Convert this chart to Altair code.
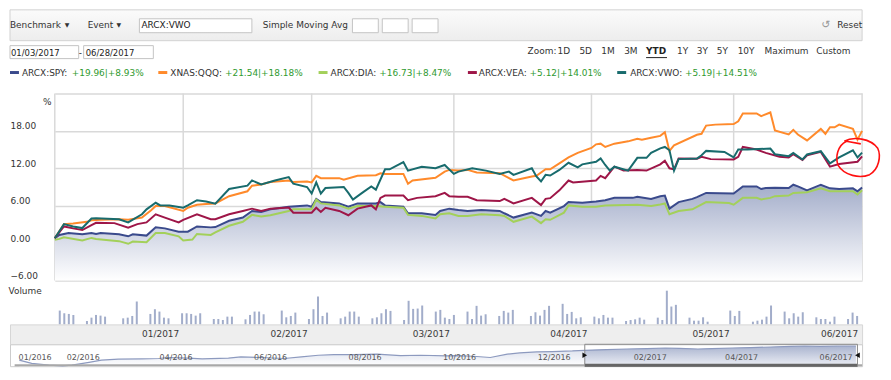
import altair as alt
import pandas as pd

FONT = "DejaVu Sans"
W = 856

# ---------------- data ----------------
names = ["ARCX:SPY", "XNAS:QQQ", "ARCX:DIA", "ARCX:VEA", "ARCX:VWO"]
colors = ["#3a4a8c", "#ff8a2b", "#a3d05a", "#9e1648", "#186b6d"]
chg_abs = [19.96, 21.54, 16.73, 5.12, 5.19]
chg_pct = [8.93, 18.18, 8.47, 14.01, 14.51]

start_date = "2017-01-03"
end_date = "2017-06-28"

# day offsets from 2017-01-03 and % change values
spy_days = [0,1,3,6,8,9,10,14,16,17,20,22,24,27,29,31,34,35,38,41,43,45,47,51,55,56,57,58,62,64,66,70,71,72,76,77,80,83,84,86,88,90,93,97,98,100,104,106,107,108,111,112,115,118,120,122,126,127,130,132,133,134,136,139,140,142,148,150,153,154,155,157,160,161,162,164,167,169,171,174,175,176]
spy_vals = [0.79,1.32,1.63,1.42,1.63,1.47,1.63,1.42,1.10,1.42,1.21,2.53,2.37,1.84,1.84,2.68,2.53,2.58,3.58,4.10,5.16,5.00,5.42,5.84,6.05,5.84,7.10,6.58,6.37,5.84,6.37,6.37,6.58,6.05,5.84,4.79,4.79,4.53,5.16,5.53,5.32,5.16,5.32,5.16,4.79,4.10,4.89,4.37,5.16,4.89,5.95,6.58,6.47,6.68,6.89,7.26,7.26,7.42,7.10,7.53,7.63,5.53,6.58,7.10,7.37,8.05,7.95,9.10,9.10,8.68,8.84,8.89,8.84,9.37,9.10,8.47,9.37,8.79,8.68,8.79,8.32,8.93]

qqq_days = [0,2,4,7,8,10,14,16,19,21,22,24,28,29,31,33,35,38,42,43,45,47,51,52,55,56,57,58,62,63,66,70,71,72,76,77,78,83,85,86,88,90,92,97,100,104,105,107,108,110,112,114,117,118,119,120,122,125,127,128,130,132,133,134,135,140,141,142,144,148,149,150,153,154,156,157,160,161,162,164,167,168,169,170,171,174,175,176]
qqq_vals = [0.79,3.05,3.16,3.42,3.68,3.74,3.84,3.74,4.10,5.26,5.95,5.95,5.16,5.68,6.16,6.26,6.37,7.53,8.32,9.21,9.40,9.79,10.05,9.79,9.89,9.74,10.79,10.42,10.42,10.16,10.79,10.89,11.21,11.10,11.10,9.53,10.05,10.47,11.47,11.74,11.63,11.74,11.32,11.21,10.05,10.68,10.79,11.84,11.84,12.79,13.74,14.47,15.26,15.84,15.95,15.42,15.95,16.32,16.74,16.58,16.89,17.20,17.79,14.79,15.68,17.37,17.53,18.84,19.00,19.10,19.53,20.79,20.79,20.37,20.95,18.05,17.42,18.16,17.42,16.47,18.32,17.53,18.58,18.58,19.00,18.32,16.58,18.00]

dia_days = [0,1,2,6,8,9,14,16,17,20,22,24,27,28,30,31,34,35,38,41,43,45,47,51,52,56,57,58,62,64,66,70,72,76,77,80,83,84,86,88,90,93,97,98,100,104,106,107,108,111,112,115,118,120,127,130,132,133,134,136,139,142,147,148,150,153,154,156,157,160,161,164,167,169,174,175,176]
dia_vals = [0.53,0.68,0.95,0.42,0.84,0.68,0.32,-0.10,0.26,0.16,1.63,1.63,1.10,0.42,0.58,1.47,1.32,1.74,2.79,3.42,4.53,4.26,4.47,5.16,5.42,5.42,7.00,6.37,6.05,5.53,5.95,5.95,5.84,5.68,4.53,4.37,3.95,4.63,4.79,4.37,4.37,4.63,4.47,4.37,3.42,4.26,3.21,3.84,3.74,4.89,6.05,5.84,5.84,6.05,6.16,5.95,6.21,6.37,4.63,5.16,5.42,6.58,6.42,6.16,7.26,7.26,7.00,7.26,7.53,7.63,8.05,8.16,8.79,8.32,8.32,7.79,8.47]

vea_days = [0,2,4,6,8,9,13,16,18,20,22,24,27,28,31,34,35,38,41,43,45,47,51,52,56,57,58,59,62,64,66,69,70,71,72,76,77,79,83,85,86,88,90,92,97,98,100,104,106,107,108,110,112,113,118,119,120,122,124,127,129,132,133,134,135,136,140,141,143,148,149,150,153,155,158,160,161,163,164,167,169,171,175,176]
vea_vals = [0.79,2.68,2.37,2.10,2.89,3.26,3.21,2.47,3.05,3.32,4.63,4.10,3.32,3.74,4.63,3.84,3.84,4.63,5.16,5.53,5.16,5.53,5.72,4.89,4.89,5.68,5.00,5.68,5.16,4.47,5.53,6.05,5.42,7.26,7.63,7.63,6.89,7.26,7.53,8.05,7.53,7.42,7.42,6.89,6.74,7.10,6.37,7.26,6.10,7.10,7.21,8.47,10.05,9.74,10.05,10.79,10.42,12.26,11.63,11.74,11.63,12.63,13.21,12.00,11.84,13.58,13.53,13.84,13.47,13.42,13.84,15.42,15.00,14.47,13.84,13.74,14.26,13.32,14.10,14.63,12.26,12.68,13.05,13.90]

vwo_days = [0,2,4,6,8,9,14,16,19,20,22,23,25,28,29,31,33,35,38,42,43,45,48,51,52,55,56,57,58,59,63,64,65,67,69,70,72,73,76,77,80,83,85,87,88,91,94,97,99,100,104,105,106,107,108,110,112,114,115,118,119,120,121,122,125,127,129,130,132,133,134,135,136,140,141,142,146,148,149,151,156,157,160,161,163,164,167,169,171,174,175,176]
vwo_vals = [0.79,3.05,2.68,2.42,3.95,4.00,3.84,3.32,4.63,5.42,6.47,6.05,6.05,5.68,6.05,6.89,6.68,6.32,8.68,9.21,10.05,9.40,10.05,10.58,9.53,9.00,7.95,9.74,7.95,8.84,9.00,8.05,7.00,8.05,9.10,8.58,11.84,11.84,13.00,11.63,12.26,12.00,12.53,11.10,11.47,12.00,11.63,11.10,11.47,10.95,12.00,10.68,9.89,10.95,10.84,11.74,12.89,12.16,12.63,13.05,13.58,12.53,11.63,12.26,11.63,13.68,13.68,14.47,15.20,15.42,14.89,11.63,13.47,13.58,14.10,14.79,14.63,13.74,15.00,15.00,15.16,14.26,13.95,14.47,13.42,14.21,14.74,12.79,13.74,14.89,13.74,14.51]

# daily volume (millions), one per trading day
holidays = ["2017-01-16", "2017-02-20", "2017-04-14", "2017-05-29"]
volume = [41,33,31,28, 10,20,28,26,23, 18,20,25,68, 31,45,38,20,18, 33,33,31,26,33,
          16,16,13,23,23, 15,28,38,38,30, 41,21,25,35, 16,45,83,25,35, 18,23,38,38,23,
          18,21,33,45,40, 13,70,46,47,56, 38,43,20,16,28, 38,16,55,26,30, 25,40,35,43,
          25,36,26,43,55, 61,31,37,18,21, 23,18,28,20,20, 10,13,15,20,14, 20,13,100,53,58,
          20,11,11,21,8, 0,41,25,40, 8,11,14,23,56, 38,18,33,23,36, 21,16,16,8,23, 16,35,25]

# navigator series (price)
nav_dates = ["2016-01-04","2016-01-12","2016-01-23","2016-02-01","2016-02-07","2016-02-18","2016-02-26","2016-03-08","2016-03-23","2016-04-03","2016-04-09","2016-04-22","2016-05-01","2016-05-18","2016-05-26","2016-06-08","2016-06-23","2016-07-04","2016-07-15","2016-07-25","2016-08-07","2016-08-22","2016-09-06","2016-09-19","2016-10-06","2016-10-12","2016-10-23","2016-11-03","2016-11-14","2016-11-22","2016-12-03","2016-12-13","2016-12-26","2017-01-03","2017-01-17","2017-01-30","2017-02-12","2017-02-24","2017-03-05","2017-03-17","2017-03-26","2017-04-08","2017-04-20","2017-05-03","2017-05-16","2017-05-25","2017-06-04","2017-06-15","2017-06-27"]
nav_vals = [201.5,192,187,185,187,195,201.5,204.4,205.3,206.5,209.4,207.3,205.3,207.3,211,209.4,206.5,211,216,218,218,219,215,216,214,215,213,209.4,219,222.7,225.6,226.8,228.5,230.5,232.6,234.3,235.5,237.2,236.3,234.3,235.5,237.2,238.4,240.1,242.1,243,242.1,243,243]
nav_label_dates = ["2016-01-01","2016-02-01","2016-04-01","2016-06-01","2016-08-01","2016-10-01","2016-12-01","2017-02-01","2017-04-01","2017-06-01"]

month_end_dates = ["2017-01-31", "2017-02-28", "2017-03-31", "2017-04-30", "2017-05-31", end_date]

zoom_items = ["Zoom:", "1D", "5D", "1M", "3M", "YTD", "1Y", "3Y", "5Y", "10Y", "Maximum", "Custom"]

annot_date = "2017-06-27"
annot_value = 13.8

# ---------------- helpers ----------------
start_ts = pd.Timestamp(start_date)


def to_dates(days):
    return [(start_ts + pd.Timedelta(days=int(d))).strftime("%Y-%m-%d") for d in days]


def utc(s):
    t = pd.Timestamp(s)
    return alt.DateTime(year=t.year, month=t.month, date=t.day, utc=True)


series_days = [spy_days, qqq_days, dia_days, vea_days, vwo_days]
series_vals = [spy_vals, qqq_vals, dia_vals, vea_vals, vwo_vals]
frames = [pd.DataFrame({"date": to_dates(d), "value": v}) for d, v in zip(series_days, series_vals)]

main_xscale = alt.Scale(domain=[utc(start_date), utc(end_date)], range=[45, W])


def X():
    return alt.X("date:T", scale=main_xscale, axis=None)


y_axis = alt.Axis(values=[-6, 0, 6, 12, 18, 24],
                  labelExpr="datum.value == 24 ? '' : format(datum.value, '.2f')",
                  labelAlign="left", labelBaseline="bottom", labelPadding=0,
                  ticks=False, domain=False, grid=True, gridColor="#d9d9d9", gridWidth=1.5,
                  labelFont=FONT, labelFontSize=9, labelColor="#333333",
                  title="%", titleAngle=0, titleX=37, titleY=8, titleAlign="center",
                  titleBaseline="middle", titleFont=FONT, titleFontSize=9,
                  titleFontWeight="normal", titleColor="#333333")
y_scale = alt.Scale(domain=[-6, 24], nice=False, zero=False)


def Y():
    return alt.Y("value:Q", scale=y_scale, axis=y_axis)


# ---------------- header ----------------
box_df = pd.DataFrame({"x": [0], "x2": [W], "y": [0], "y2": [31]})
header_box = alt.Chart(box_df).mark_rect(
    fill=alt.Gradient(gradient="linear", x1=0, x2=0, y1=0, y2=1,
                      stops=[alt.GradientStop(color="#fbfbfb", offset=0),
                             alt.GradientStop(color="#ededed", offset=1)]),
    stroke="#d2d2d2", strokeWidth=1
).encode(x=alt.X("x:Q", scale=None), x2="x2:Q", y=alt.Y("y:Q", scale=None), y2="y2:Q")

inputs_df = pd.DataFrame({
    "x": [130, 344, 374, 404, 0, 74],
    "x2": [243, 370, 400, 430, 69, 144],
    "y": [9, 9, 9, 9, 36, 36],
    "y2": [23, 23, 23, 23, 49, 49],
})
header_inputs = alt.Chart(inputs_df).mark_rect(fill="#ffffff", stroke="#c4c4c4", strokeWidth=1).encode(
    x=alt.X("x:Q", scale=None), x2="x2:Q", y=alt.Y("y:Q", scale=None), y2="y2:Q")

texts_df = pd.DataFrame([
    ("Benchmark", 0, 15, 9, "#333333"),
    ("\u25BC", 55, 15, 6, "#333333"),
    ("Event", 78, 15, 9, "#333333"),
    ("\u25BC", 107, 15, 6, "#333333"),
    ("ARCX:VWO", 132, 15, 9, "#222222"),
    ("Simple Moving Avg", 254, 15, 9, "#333333"),
    ("\u21BA", 815, 15, 11, "#9a9a9a"),
    ("Reset", 831, 15, 9, "#333333"),
    ("01/03/2017", 1, 43, 8.5, "#222222"),
    ("-", 69, 43, 9, "#222222"),
    ("06/28/2017", 76, 43, 8.5, "#222222"),
], columns=["text", "x", "y", "size", "color"])

zoom_x = [520, 550, 572, 594, 617, 639, 670, 690, 710, 731, 758, 810]
zoom_df = pd.DataFrame({"text": zoom_items, "x": zoom_x, "y": 41,
                        "bold": [t == "YTD" for t in zoom_items]})
texts_df = pd.concat([texts_df,
                      pd.DataFrame({"text": zoom_df[~zoom_df.bold].text, "x": zoom_df[~zoom_df.bold].x,
                                    "y": 41, "size": 9, "color": "#333333"})], ignore_index=True)

header_text = alt.Chart(texts_df).mark_text(font=FONT, align="left", baseline="middle").encode(
    x=alt.X("x:Q", scale=None), y=alt.Y("y:Q", scale=None), text="text:N",
    size=alt.Size("size:Q", scale=None, legend=None), color=alt.Color("color:N", scale=None))

ytd_df = zoom_df[zoom_df.bold]
header_ytd = alt.Chart(ytd_df).mark_text(font=FONT, align="left", baseline="middle", fontSize=9,
                                         fontWeight="bold", color="#222222").encode(
    x=alt.X("x:Q", scale=None), y=alt.Y("y:Q", scale=None), text="text:N")
underline_df = pd.DataFrame({"x": [639], "x2": [660], "y": [48]})
header_underline = alt.Chart(underline_df).mark_rule(color="#222222", strokeWidth=1).encode(
    x=alt.X("x:Q", scale=None), x2="x2:Q", y=alt.Y("y:Q", scale=None))

leg_dash_x = [0, 149, 310, 460, 610]
leg_name_x = [12, 161, 322, 471, 623]
leg_val_x = [62, 216, 371, 522, 678]
legend_df = pd.DataFrame({
    "name": [n + ":" for n in names],
    "vals": [f"+{a:.2f}|+{p:.2f}%" for a, p in zip(chg_abs, chg_pct)],
    "color": colors,
    "dx": leg_dash_x, "dx2": [x + 9 for x in leg_dash_x],
    "nx": leg_name_x, "vx": leg_val_x, "y": 63,
})
legend_dash = alt.Chart(legend_df).mark_rule(strokeWidth=3).encode(
    x=alt.X("dx:Q", scale=None), x2="dx2:Q", y=alt.Y("y:Q", scale=None),
    color=alt.Color("color:N", scale=None))
legend_name = alt.Chart(legend_df).mark_text(font=FONT, fontSize=9, align="left", baseline="middle",
                                             color="#333333").encode(
    x=alt.X("nx:Q", scale=None), y=alt.Y("y:Q", scale=None), text="name:N")
legend_vals = alt.Chart(legend_df).mark_text(font=FONT, fontSize=9, align="left", baseline="middle",
                                             color="#2f9a2f").encode(
    x=alt.X("vx:Q", scale=None), y=alt.Y("y:Q", scale=None), text="vals:N")

header = alt.layer(header_box, header_inputs, header_text, header_ytd, header_underline,
                   legend_dash, legend_name, legend_vals).properties(width=W, height=84)

# ---------------- main chart ----------------
grid_df = pd.DataFrame({"date": [start_date] + month_end_dates})
vgrid = alt.Chart(grid_df).mark_rule(color="#d9d9d9", strokeWidth=1.5).encode(x=X())

area = alt.Chart(frames[0]).mark_area(
    color=alt.Gradient(gradient="linear", x1=0, x2=0, y1=0, y2=1,
                       stops=[alt.GradientStop(color="#a3adca", offset=0),
                              alt.GradientStop(color="#ffffff", offset=1)])
).encode(x=X(), y=Y(), y2=alt.datum(-6))

line_layers = []
for df, col in zip(frames, colors):
    line_layers.append(alt.Chart(df).mark_line(color=col, strokeWidth=2).encode(x=X(), y=Y()))

# hand-drawn style loop (unit box), kept inside the page width
circle_path = ("M -0.6 -0.72 C -0.2 -0.95 0.6 -0.85 0.92 -0.4 C 1.08 -0.05 0.98 0.55 0.55 0.8 "
               "C 0.1 0.98 -0.6 0.85 -0.88 0.38 C -1.02 0.02 -0.92 -0.52 -0.5 -0.72 L 0.15 -0.6")
annot = alt.Chart(pd.DataFrame({"date": [annot_date], "value": [annot_value]})).mark_point(
    shape=circle_path, size=1950, filled=False, stroke="#ff1010", strokeWidth=1.6, opacity=1
).encode(x=X(), y=Y())

main = alt.layer(vgrid, area, *line_layers, annot).properties(width=W, height=188)

# ---------------- volume ----------------
tdays = pd.bdate_range(start_date, end_date)
tdays = [d.strftime("%Y-%m-%d") for d in tdays if d.strftime("%Y-%m-%d") not in holidays]
vol_df = pd.DataFrame({"date": tdays, "vol": volume})
vol_df = vol_df[vol_df.vol > 0]
vol = alt.Chart(vol_df).mark_bar(size=2, color="#a2adca").encode(
    x=X(),
    y=alt.Y("vol:Q", scale=alt.Scale(domain=[0, 130], nice=False),
            axis=alt.Axis(labels=False, ticks=False, domain=False, grid=False, title="Volume",
                          titleAngle=0, titleX=-2, titleY=10, titleAlign="left",
                          titleBaseline="middle", titleFont=FONT, titleFontSize=9,
                          titleFontWeight="normal", titleColor="#333333")),
).properties(width=W, height=44)

# ---------------- date band ----------------
band_df = pd.DataFrame({"date": month_end_dates,
                        "label": [pd.Timestamp(d).strftime("%m/%Y") for d in month_end_dates]})
band = alt.Chart(band_df).mark_text(font=FONT, fontSize=9, align="right", baseline="middle",
                                    dx=-4, color="#3a3a3a").encode(
    x=X(), y=alt.value(10), text="label:N"
).properties(width=W, height=20,
             view=alt.ViewBackground(fill="#eeeeee", stroke="#d6d6d6", strokeWidth=1))

# ---------------- navigator ----------------
nav_xscale = alt.Scale(domain=[utc("2015-12-29"), utc("2017-07-01")])
nav_yscale = alt.Scale(domain=[184, 248], nice=False, zero=False)
nav_df = pd.DataFrame({"date": nav_dates, "value": nav_vals})
nav_sel_df = nav_df[nav_df.date >= start_date]


def NX():
    return alt.X("date:T", scale=nav_xscale, axis=None)


def NY():
    return alt.Y("value:Q", scale=nav_yscale, axis=None)


nav_area = alt.Chart(nav_df).mark_area(
    color=alt.Gradient(gradient="linear", x1=0, x2=0, y1=0, y2=1,
                       stops=[alt.GradientStop(color="#d7dcea", offset=0),
                              alt.GradientStop(color="#ffffff", offset=1)])
).encode(x=NX(), y=NY(), y2=alt.datum(184))
nav_sel_area = alt.Chart(nav_sel_df).mark_area(
    color=alt.Gradient(gradient="linear", x1=0, x2=0, y1=0, y2=1,
                       stops=[alt.GradientStop(color="#aab4cf", offset=0),
                              alt.GradientStop(color="#eef0f6", offset=1)])
).encode(x=NX(), y=NY(), y2=alt.datum(184))
nav_line = alt.Chart(nav_df).mark_line(color="#8d9abf", strokeWidth=1.2).encode(x=NX(), y=NY())

nav_lab_df = pd.DataFrame({"date": nav_label_dates,
                           "label": [pd.Timestamp(d).strftime("%m/%Y") for d in nav_label_dates]})
nav_labels = alt.Chart(nav_lab_df).mark_text(font=FONT, fontSize=8, align="left", baseline="middle",
                                             dx=4, color="#555555").encode(
    x=NX(), y=alt.value(14), text="label:N")

sel_df = pd.DataFrame({"date": [start_date], "date2": [end_date]})
nav_sel_box = alt.Chart(sel_df).mark_rect(fillOpacity=0, stroke="#8a8a8a", strokeWidth=1).encode(
    x=NX(), x2="date2:T", y=alt.value(0), y2=alt.value(22))
track_df = pd.DataFrame({"date": ["2016-01-01"], "date2": ["2017-07-01"]})
nav_track = alt.Chart(track_df).mark_rule(color="#a8a8a8", strokeWidth=2).encode(
    x=NX(), x2="date2:T", y=alt.value(21))
nav_thumb = alt.Chart(sel_df).mark_rule(color="#666666", strokeWidth=3).encode(
    x=NX(), x2="date2:T", y=alt.value(21))
nav_h1 = alt.Chart(pd.DataFrame({"date": [start_date]})).mark_point(
    shape="triangle-right", size=30, filled=True, color="#111111", opacity=1, dx=-3
).encode(x=NX(), y=alt.value(11))
nav_h2 = alt.Chart(pd.DataFrame({"date": [end_date]})).mark_point(
    shape="triangle-left", size=30, filled=True, color="#111111", opacity=1, dx=3
).encode(x=NX(), y=alt.value(11))

nav = alt.layer(nav_area, nav_sel_area, nav_line, nav_labels, nav_sel_box, nav_track, nav_thumb,
                nav_h1, nav_h2).properties(
    width=W, height=22, view=alt.ViewBackground(fill="#ffffff", stroke="#cccccc", strokeWidth=1))

chart = alt.vconcat(header, main, vol, band, nav, spacing=0, bounds="flush").resolve_scale(
    x="independent", y="independent"
).properties(padding=0).configure(font=FONT).configure_view(strokeWidth=0)

chart.save("out.html", embed_options={"renderer": "svg", "actions": False})
